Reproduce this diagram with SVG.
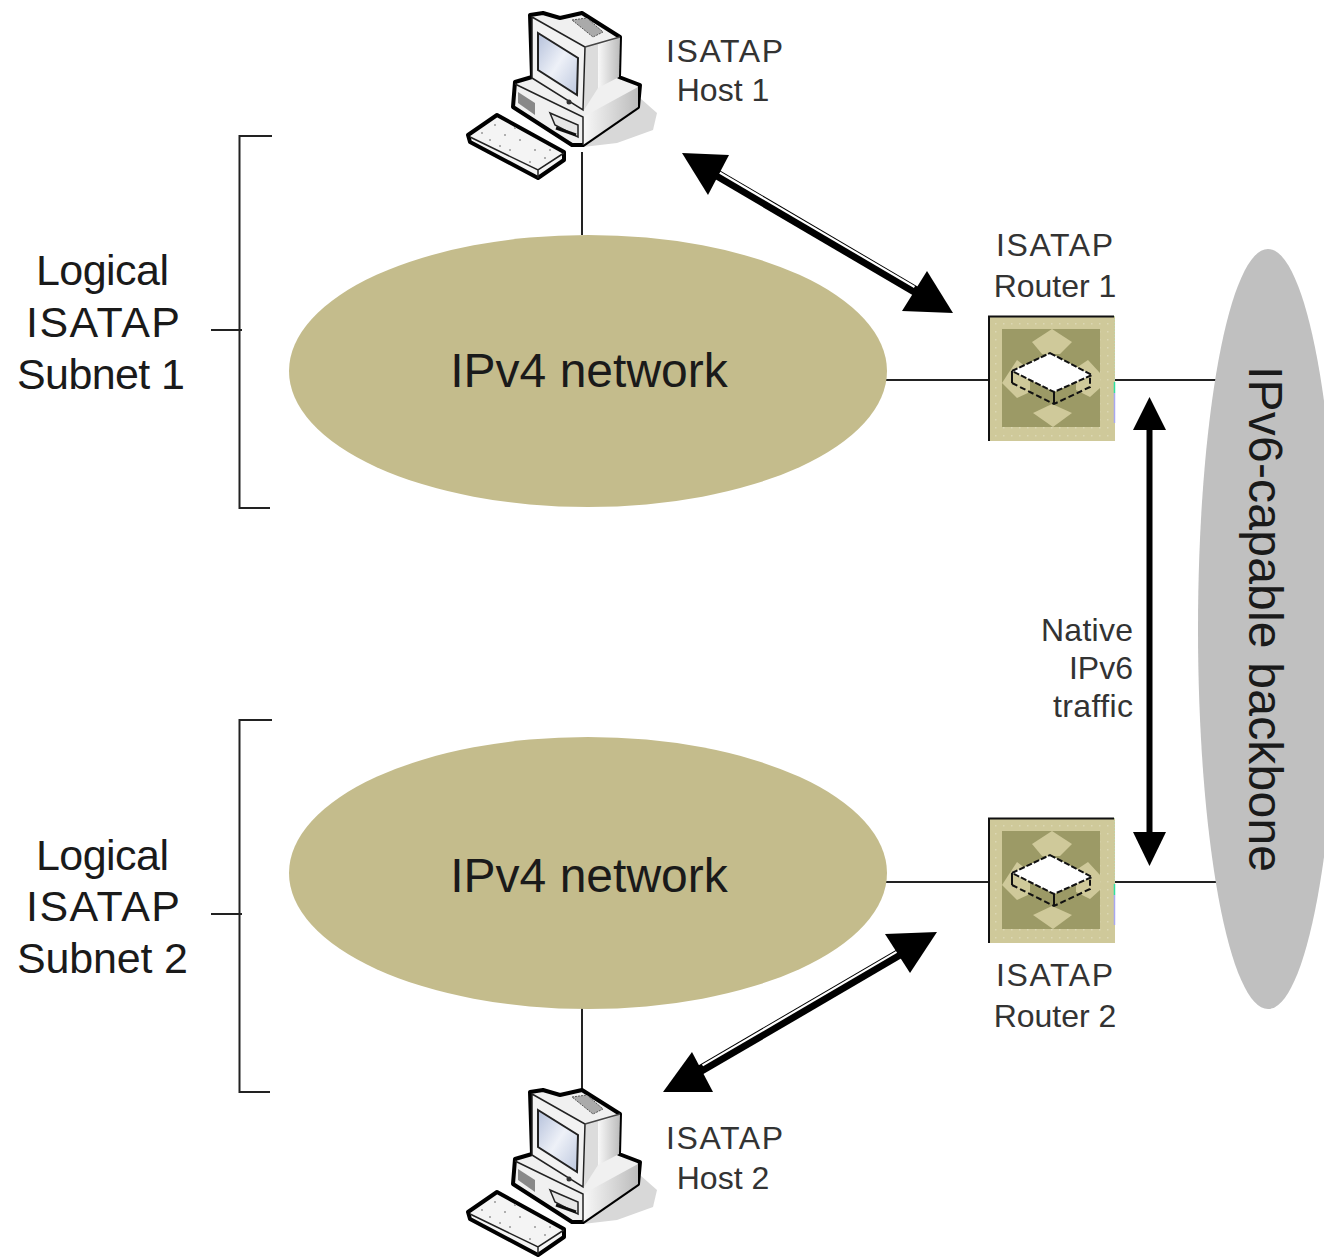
<svg xmlns="http://www.w3.org/2000/svg" width="1324" height="1257" viewBox="0 0 1324 1257">
<style>
text{font-family:"Liberation Sans",Arial,sans-serif;fill:#1a1a1a}
.s{font-size:32px;fill:#333}
.m{font-size:43px}
.l{font-size:48px}
.ln{fill:none;stroke:#222;stroke-width:2}
.net{fill:#c4bc8c}
.o{stroke:#000;stroke-width:4;stroke-linejoin:round}
.shaft{stroke:#000;stroke-width:10;fill:none}
.shine{stroke:#fff;stroke-width:2.2;fill:none}
</style>
<defs>
<linearGradient id="scr" x1="0" y1="0" x2="1" y2="1"><stop offset="0" stop-color="#b4c0da"/><stop offset=".5" stop-color="#eef1f8"/><stop offset="1" stop-color="#bcc7de"/></linearGradient>
<linearGradient id="side" x1="0" y1="0" x2="1" y2="0"><stop offset="0" stop-color="#f8f8f8"/><stop offset="1" stop-color="#bcbcbc"/></linearGradient>
<pattern id="dots" width="8" height="8" patternUnits="userSpaceOnUse"><rect width="8" height="8" fill="#cfc99a"/><rect x="3" y="3" width="1.500" height="1.500" fill="#dcd8b4"/></pattern>
<filter id="soft" x="-5%" y="-5%" width="110%" height="110%"><feGaussianBlur stdDeviation="0.6"/></filter>
<g id="pc" filter="url(#soft)">
<path d="M600,96 640,98 657,113 653,130 617,143 583,147Z" fill="#d8d8d8"/>
<path class="o" fill="#f0f0f0" d="M530,15 543,13 560,18 582,13 620,37 619,77 640,85 638,107 583,145 572,145 513,107 515,82 532,77Z"/>
<path d="M583,117 638,87 638,107 583,145Z" fill="url(#side)"/>
<path d="M515,84 583,117 583,145" fill="none" stroke="#222" stroke-width="1.500"/>
<path d="M598,46 620,37 619,77 598,88Z" fill="url(#side)"/>
<path d="M585,47 598,43 598,88 584,110Z" fill="#dcdcdc"/>
<path d="M532,17 585,47 583,110 532,78Z" fill="#f2f2f2" stroke="#222" stroke-width="1.500"/>
<path d="M538,33 578,58 577,95 538,70Z" fill="url(#scr)" stroke="#222" stroke-width="2"/>
<path d="M585,47 620,37" fill="none" stroke="#444" stroke-width="1.500"/>
<path d="M572,20 587,18 603,32 593,37Z" fill="#aaa" stroke="#555" stroke-width="1" stroke-dasharray="2 1"/>
<path d="M518,92 535,103 535,115 518,103Z" fill="#888"/>
<path d="M550,113 578,125 578,137 555,125Z" fill="#e6e6e6" stroke="#222" stroke-width="1.500"/>
<path d="M556,128 576,135" stroke="#111" stroke-width="3" fill="none"/>
<circle cx="569" cy="102" r="2.500" fill="#333"/>
<path class="o" fill="#f4f4f4" d="M468,135 497,115 564,152 564,160 538,178 470,142Z"/>
<path d="M470,137 538,170 564,153 M538,170 538,178" fill="none" stroke="#222" stroke-width="1.500"/>
<g fill="#999"><circle cx="482" cy="133" r="1"/><circle cx="495" cy="125" r="1"/><circle cx="505" cy="135" r="1"/><circle cx="520" cy="140" r="1"/><circle cx="535" cy="150" r="1"/><circle cx="545" cy="158" r="1"/><circle cx="530" cy="162" r="1"/><circle cx="510" cy="150" r="1"/><circle cx="490" cy="140" r="1"/><circle cx="515" cy="128" r="1"/><circle cx="550" cy="150" r="1"/><circle cx="500" cy="146" r="1"/></g>
</g>
<g id="router">
<rect x="988" y="316" width="127" height="125" fill="url(#dots)"/>
<path d="M989,441V316.500H1114" fill="none" stroke="#111" stroke-width="2"/>
<path d="M1114.500,316V382" stroke="#bcd8b0" stroke-width="1" stroke-dasharray="1 2" fill="none"/>
<path d="M1114.500,382V393" stroke="#2fe0a0" stroke-width="1.500" fill="none"/>
<path d="M1114.500,393V423" stroke="#a8a8f0" stroke-width="1.500" fill="none"/>
<rect x="1002" y="329" width="98" height="98" fill="#9c9a66"/>
<g fill="#cfc99a">
<path d="M1052,329 1072,342 1060,354H1042L1032,342Z"/>
<path d="M1052,404 1072,413 1053,427 1033,413Z"/>
<path d="M1002,383 1017,360 1030,370V392L1017,398Z"/>
<path d="M1100,373 1088,360 1076,368V390L1090,397 1100,388Z"/>
</g>
<path d="M1050,353 1092,375 1054,392 1012,371Z" fill="#fff" stroke="#111" stroke-width="2" stroke-dasharray="6 2"/>
<path d="M1012,383 1054,404 1090,387V376" fill="none" stroke="#111" stroke-width="2" stroke-dasharray="6 3"/>
<path d="M1012,371V383M1054,392V404" fill="none" stroke="#111" stroke-width="2"/>
</g>
</defs>
<rect width="1324" height="1257" fill="#fff"/>
<g id="connectors">
<path class="ln" d="M582,152V235M582,1008V1090M886,380H988M1115,380H1217M886,882H988M1115,882H1217"/>
<path class="ln" d="M272,136H239.500V508H270M211,330H242M272,720H239.500V1092H270M211,914H242"/>
<g id="arrow-host1">
<path class="shaft" d="M712,171.500 918,292.500"/>
<path class="shine" d="M719.500,172.500 914.500,287"/>
<path d="M682,153 729,155 708,195Z"/>
<path d="M927,271 953,313 902,311Z"/>
</g>
<g id="arrow-host2">
<path class="shaft" d="M697,1072 904,951"/>
<path class="shine" d="M702.500,1065.400 897.500,951.400"/>
<path d="M885,934 937,932 910,973Z"/>
<path d="M692,1052 713,1092 663,1092Z"/>
</g>
<g id="arrow-native">
<path d="M1149.500,425V840" stroke="#000" stroke-width="6" fill="none"/>
<path d="M1149.500,397 1166,430H1133Z"/>
<path d="M1149.500,866 1133,832H1166Z"/>
</g>
</g>
<g id="net1"><ellipse class="net" cx="588" cy="371" rx="299" ry="136"/><text class="l" x="589" y="387" text-anchor="middle">IPv4 network</text></g>
<g id="net2"><ellipse class="net" cx="588" cy="873" rx="299" ry="136"/><text class="l" x="589" y="892" text-anchor="middle">IPv4 network</text></g>
<g id="backbone"><ellipse cx="1268" cy="629" rx="70" ry="380" fill="#c0c0c0"/><text class="l" transform="translate(1249,366) rotate(90)" textLength="506">IPv6-capable backbone</text></g>
<g id="host1"><use href="#pc"/><text class="s" x="666" y="62" textLength="117">ISATAP</text><text class="s" x="723" y="101" text-anchor="middle">Host 1</text></g>
<g id="host2"><use href="#pc" y="1077"/><text class="s" x="666" y="1149" textLength="117">ISATAP</text><text class="s" x="723" y="1189" text-anchor="middle">Host 2</text></g>
<g id="router1"><use href="#router"/><text class="s" x="996" y="256" textLength="117">ISATAP</text><text class="s" x="1055" y="297" text-anchor="middle">Router 1</text></g>
<g id="router2"><use href="#router" y="502"/><text class="s" x="996" y="986" textLength="117">ISATAP</text><text class="s" x="1055" y="1027" text-anchor="middle">Router 2</text></g>
<g id="label-native"><text class="s" x="1041" y="641" textLength="92">Native</text><text class="s" x="1133" y="679" text-anchor="end">IPv6</text><text class="s" x="1053" y="717" textLength="80">traffic</text></g>
<g id="subnet1"><text class="m" x="36" y="285" textLength="133">Logical</text><text class="m" x="26" y="337" textLength="154">ISATAP</text><text class="m" x="17" y="389" textLength="168">Subnet 1</text></g>
<g id="subnet2"><text class="m" x="36" y="870" textLength="133">Logical</text><text class="m" x="26" y="921" textLength="154">ISATAP</text><text class="m" x="17" y="973" textLength="171">Subnet 2</text></g>
</svg>
